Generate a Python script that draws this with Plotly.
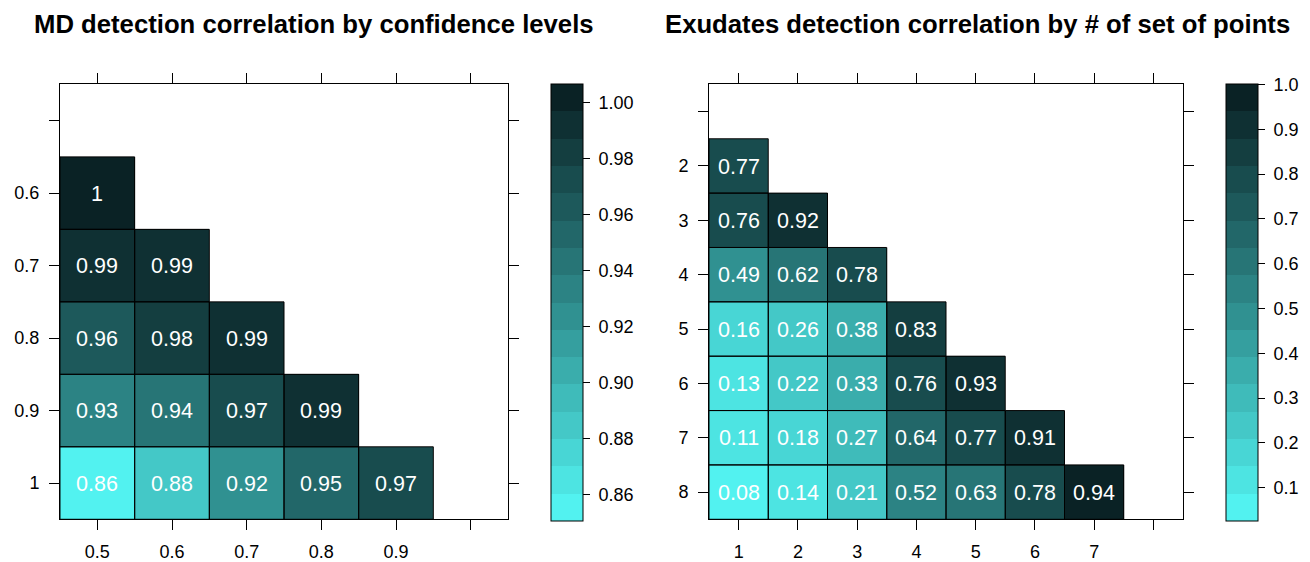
import plotly.graph_objects as go

W, H = 1310, 562

# ---------------- data ----------------
md_x_labels = ["0.5", "0.6", "0.7", "0.8", "0.9", ""]
md_y_labels = ["", "0.6", "0.7", "0.8", "0.9", "1"]
md_values = [
    [None, None, None, None, None, None],
    [1.00, None, None, None, None, None],
    [0.99, 0.99, None, None, None, None],
    [0.96, 0.98, 0.99, None, None, None],
    [0.93, 0.94, 0.97, 0.99, None, None],
    [0.86, 0.88, 0.92, 0.95, 0.97, None],
]
md_text = [
    ["", "", "", "", "", ""],
    ["1", "", "", "", "", ""],
    ["0.99", "0.99", "", "", "", ""],
    ["0.96", "0.98", "0.99", "", "", ""],
    ["0.93", "0.94", "0.97", "0.99", "", ""],
    ["0.86", "0.88", "0.92", "0.95", "0.97", ""],
]
md_cb_ticks = [0.86, 0.88, 0.90, 0.92, 0.94, 0.96, 0.98, 1.00]
md_zrange = [0.8504, 1.0064]

ex_x_labels = ["1", "2", "3", "4", "5", "6", "7", ""]
ex_y_labels = ["", "2", "3", "4", "5", "6", "7", "8"]
ex_values = [
    [None] * 8,
    [0.77, None, None, None, None, None, None, None],
    [0.76, 0.92, None, None, None, None, None, None],
    [0.49, 0.62, 0.78, None, None, None, None, None],
    [0.16, 0.26, 0.38, 0.83, None, None, None, None],
    [0.13, 0.22, 0.33, 0.76, 0.93, None, None, None],
    [0.11, 0.18, 0.27, 0.64, 0.77, 0.91, None, None],
    [0.08, 0.14, 0.21, 0.52, 0.63, 0.78, 0.94, None],
]
ex_cb_ticks = [0.1, 0.2, 0.3, 0.4, 0.5, 0.6, 0.7, 0.8, 0.9, 1.0]
ex_zrange = [0.025, 1.0]

titles = ["MD detection correlation by confidence levels",
          "Exudates detection correlation by # of set of points"]

# ---------------- style ----------------
FONT = "Liberation Sans, Arial, sans-serif"
N_BANDS = 16
light = (82, 242, 240)
dark = (10, 34, 37)
band_colors = []
for i in range(N_BANDS):
    t = i / (N_BANDS - 1)
    c = tuple(round(light[k] + (dark[k] - light[k]) * t) for k in range(3))
    band_colors.append("rgb(%d,%d,%d)" % c)
colorscale = []
for i, c in enumerate(band_colors):
    colorscale.append([i / N_BANDS, c])
    colorscale.append([(i + 1) / N_BANDS, c])


def px_x(p):
    return p / W


def px_y(p):
    return 1 - p / H


fig = go.Figure()

ex_text = [["" if v is None else "%.2f" % v for v in row] for row in ex_values]

panels = [
    dict(vals=md_values, text=md_text, xl=md_x_labels, yl=md_y_labels, zr=md_zrange,
         ticks=md_cb_ticks, fmt="%.2f", xdom=(60, 508), cbx=551, xa="x", ya="y"),
    dict(vals=ex_values, text=ex_text, xl=ex_x_labels, yl=ex_y_labels, zr=ex_zrange,
         ticks=ex_cb_ticks, fmt="%.1f", xdom=(709, 1183), cbx=1226, xa="x2", ya="y2"),
]

PLOT_TOP, PLOT_BOT = 85, 523
NBSP = "\u00a0"

for k, p in enumerate(panels):
    nx = len(p["xl"])
    ny = len(p["yl"])
    fig.add_trace(go.Heatmap(
        z=p["vals"], x=list(range(nx)), y=list(range(ny)),
        text=p["text"], texttemplate="%{text}",
        textfont=dict(family=FONT, size=21.5, color="white"),
        colorscale=colorscale, zmin=p["zr"][0], zmax=p["zr"][1],
        hoverongaps=False, xaxis=p["xa"], yaxis=p["ya"],
        colorbar=dict(
            x=px_x(p["cbx"]), xanchor="left", xpad=0,
            y=px_y(PLOT_TOP), yanchor="top", ypad=0,
            len=437, lenmode="pixels", thickness=32, thicknessmode="pixels",
            outlinewidth=1, outlinecolor="black",
            ticks="outside", ticklen=7, tickwidth=1, tickcolor="black",
            tickvals=p["ticks"], ticktext=[NBSP + p["fmt"] % t for t in p["ticks"]],
            tickfont=dict(family=FONT, size=18, color="black"),
        ),
    ))
    # cell borders derived from data positions
    for r, row in enumerate(p["vals"]):
        for c, v in enumerate(row):
            if v is None:
                continue
            fig.add_shape(type="rect", xref=p["xa"], yref=p["ya"],
                          x0=c - 0.5, x1=c + 0.5, y0=r - 0.5, y1=r + 0.5,
                          line=dict(color="black", width=1), fillcolor="rgba(0,0,0,0)",
                          layer="above")

    axis_common = dict(showgrid=False, zeroline=False, showline=True, linecolor="black",
                       linewidth=1, mirror="ticks", ticks="outside", ticklen=10,
                       tickwidth=1, tickcolor="black", ticklabelstandoff=6,
                       tickfont=dict(family=FONT, size=18, color="black"))
    xname = "xaxis" if p["xa"] == "x" else "xaxis2"
    yname = "yaxis" if p["ya"] == "y" else "yaxis2"
    fig.update_layout(**{
        xname: dict(domain=[px_x(p["xdom"][0]), px_x(p["xdom"][1])],
                    range=[-0.5, nx - 0.5], tickvals=list(range(nx)), ticktext=p["xl"],
                    anchor=p["ya"], **axis_common),
        yname: dict(domain=[px_y(PLOT_BOT), px_y(PLOT_TOP)],
                    range=[ny - 0.5, -0.5], tickvals=list(range(ny)), ticktext=p["yl"],
                    anchor=p["xa"], **axis_common),
    })

for title, cx in zip(titles, [313.5, 978]):
    fig.add_annotation(text="<b>%s</b>" % title, x=px_x(cx), y=px_y(24),
                       xref="paper", yref="paper", xanchor="center", yanchor="middle",
                       showarrow=False, font=dict(family=FONT, size=25.7, color="black"))

fig.update_layout(width=W, height=H, margin=dict(l=0, r=0, t=0, b=0),
                  paper_bgcolor="white", plot_bgcolor="white", showlegend=False)

fig.write_html("out.html", config={"displayModeBar": False},
               post_script="document.body.style.margin='0';document.body.style.overflow='hidden';")
